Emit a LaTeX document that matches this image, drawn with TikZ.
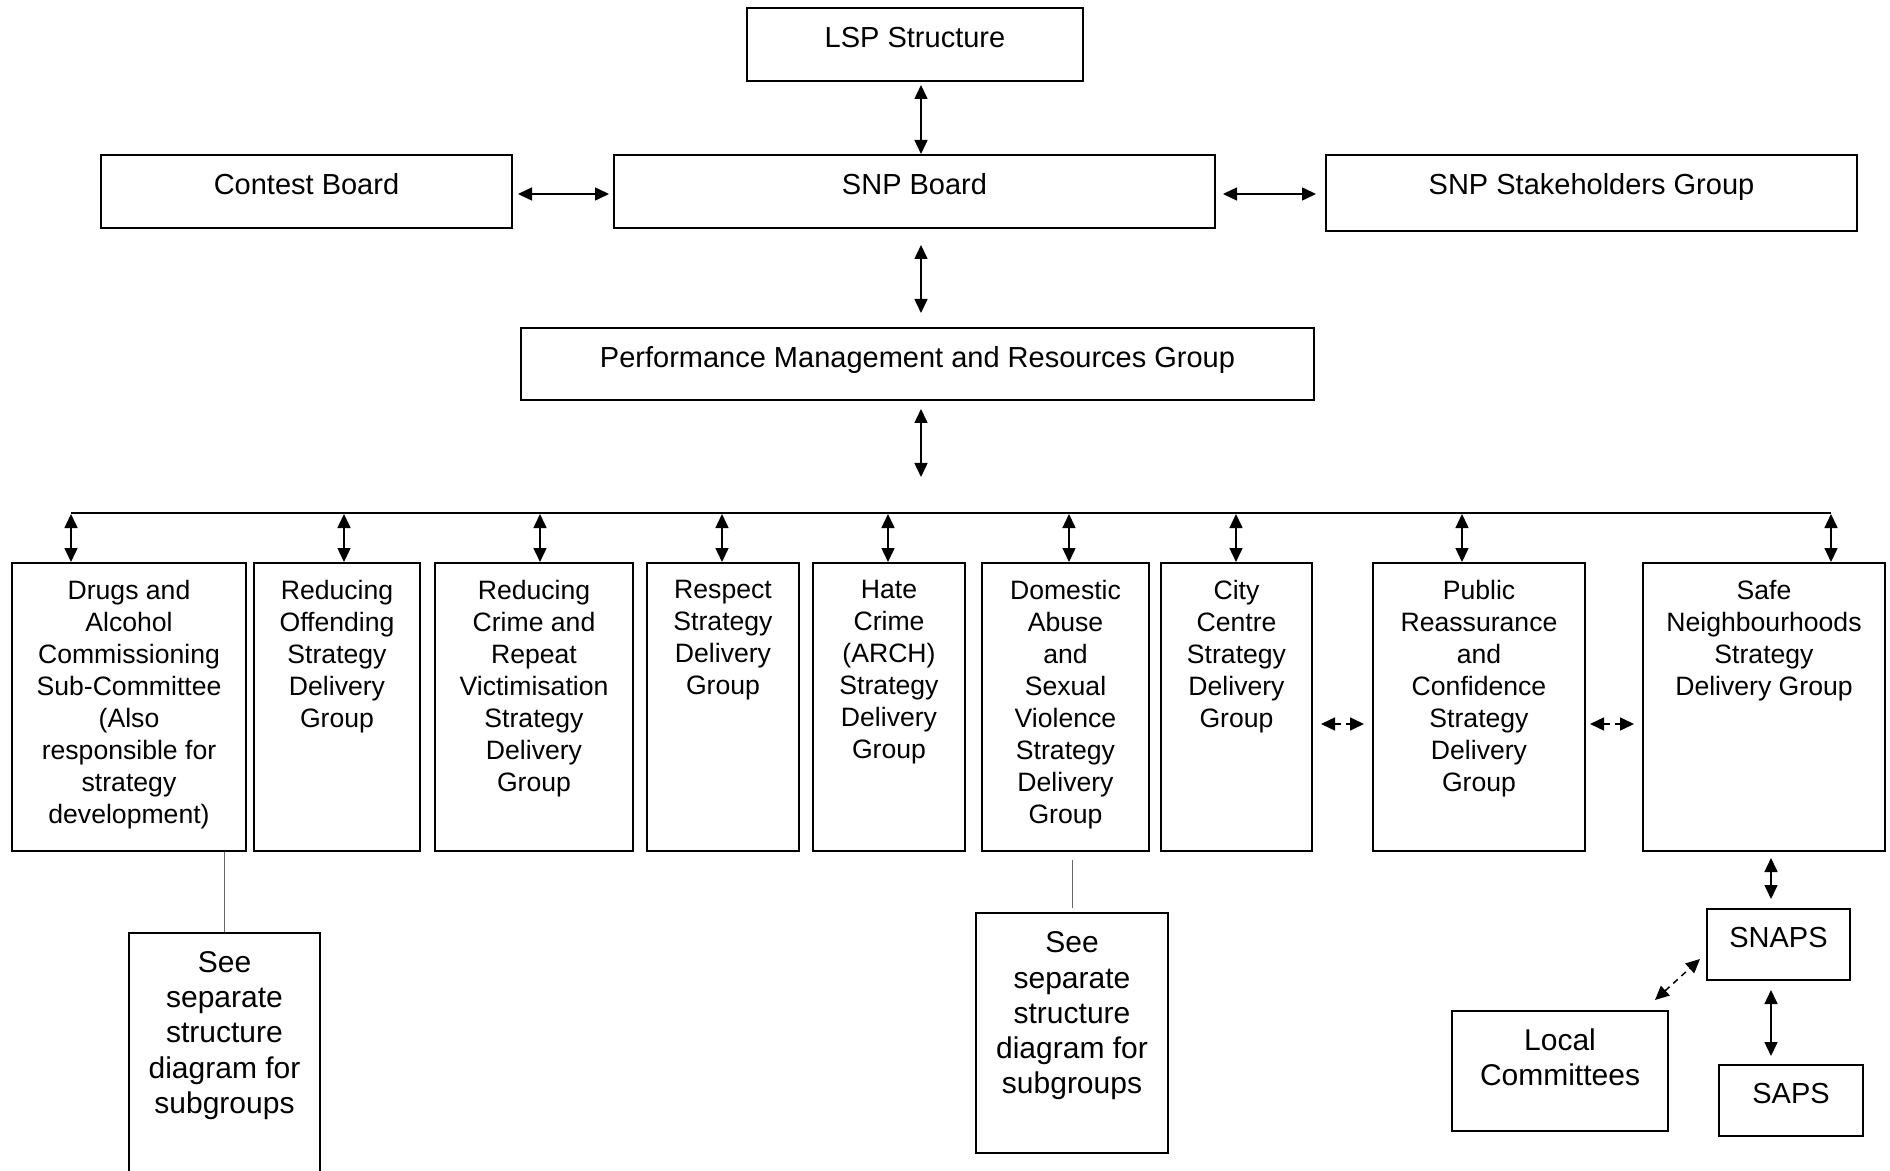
\documentclass[tikz,border=0pt]{standalone}
\usepackage{fontspec}
\setmainfont{Liberation Sans}
\usetikzlibrary{arrows.meta}
\begin{document}
\begin{tikzpicture}[x=0.5pt,y=-0.5pt,
  box/.style={draw, line width=1pt, inner sep=0pt, anchor=north west},
  txt/.style={font=\fontsize{14.5pt}{16pt}\selectfont, align=center, inner sep=0pt, anchor=north},
  txtg/.style={txt, font=\fontsize{13.3pt}{16pt}\selectfont},
  txtb/.style={txt, font=\fontsize{15pt}{17.6pt}\selectfont},
  arr/.style={line width=0.75pt, {Triangle[length=7pt,width=6.5pt]}-{Triangle[length=7pt,width=6.5pt]}},
  darr/.style={arr, dash pattern=on 3pt off 2.5pt},
  thinl/.style={line width=0.5pt, black!60}
]
\path[fill=white, use as bounding box] (0,0) rectangle (1890,1171);

% top level
\node[box, minimum width=168pt, minimum height=36.5pt] (lsp) at (746,7) {};
\node[txt] (lspt) at ([yshift=-9.75pt]lsp.north) {LSP Structure};
\node[box, minimum width=205.5pt, minimum height=36.5pt] (contest) at (100,154) {};
\node[txt] (contestt) at ([yshift=-9.75pt]contest.north) {Contest Board};
\node[box, minimum width=300.5pt, minimum height=36.5pt] (snp) at (613,154) {};
\node[txt] (snpt) at ([yshift=-9.75pt]snp.north) {SNP Board};
\node[box, minimum width=265.5pt, minimum height=38pt] (stake) at (1325,154) {};
\node[txt] (staket) at ([yshift=-9.75pt]stake.north) {SNP Stakeholders Group};
\node[box, minimum width=396.5pt, minimum height=36pt] (pmrg) at (520,327) {};
\node[txt] (pmrgt) at ([yshift=-9.3pt]pmrg.north) {Performance Management and Resources Group};

% delivery groups
\node[box, minimum width=117pt, minimum height=144pt] (b1) at (11,562) {};
\node[txtg] (b1t) at ([yshift=-9.1pt]b1.north) {Drugs and\\Alcohol\\Commissioning\\Sub-Committee\\(Also\\responsible for\\strategy\\development)};
\node[box, minimum width=83pt, minimum height=144pt] (b2) at (253,562) {};
\node[txtg] (b2t) at ([yshift=-9.1pt]b2.north) {Reducing\\Offending\\Strategy\\Delivery\\Group};
\node[box, minimum width=99pt, minimum height=144pt] (b3) at (434,562) {};
\node[txtg] (b3t) at ([yshift=-9.1pt]b3.north) {Reducing\\Crime and\\Repeat\\Victimisation\\Strategy\\Delivery\\Group};
\node[box, minimum width=76pt, minimum height=144pt] (b4) at (646,562) {};
\node[txtg] (b4t) at ([yshift=-9.1pt]b4.north) {Respect\\Strategy\\Delivery\\Group};
\node[box, minimum width=76pt, minimum height=144pt] (b5) at (812,562) {};
\node[txtg] (b5t) at ([yshift=-9.1pt]b5.north) {Hate\\Crime\\(ARCH)\\Strategy\\Delivery\\Group};
\node[box, minimum width=83.5pt, minimum height=144pt] (b6) at (981,562) {};
\node[txtg] (b6t) at ([yshift=-9.1pt]b6.north) {Domestic\\Abuse\\and\\Sexual\\Violence\\Strategy\\Delivery\\Group};
\node[box, minimum width=75.5pt, minimum height=144pt] (b7) at (1160,562) {};
\node[txtg] (b7t) at ([yshift=-9.1pt]b7.north) {City\\Centre\\Strategy\\Delivery\\Group};
\node[box, minimum width=106pt, minimum height=144pt] (b8) at (1372,562) {};
\node[txtg] (b8t) at ([yshift=-9.1pt]b8.north) {Public\\Reassurance\\and\\Confidence\\Strategy\\Delivery\\Group};
\node[box, minimum width=121pt, minimum height=144pt] (b9) at (1642,562) {};
\node[txtg] (b9t) at ([yshift=-9.1pt]b9.north) {Safe\\Neighbourhoods\\Strategy\\Delivery Group};

% lower boxes
\node[box, minimum width=95.5pt, minimum height=134pt] (see1) at (128,932) {};
\node[txtb] (see1t) at ([yshift=-9.6pt]see1.north) {See\\separate\\structure\\diagram for\\subgroups};
\node[box, minimum width=96pt, minimum height=120pt] (see2) at (975,912) {};
\node[txtb] (see2t) at ([yshift=-9.8pt]see2.north) {See\\separate\\structure\\diagram for\\subgroups};
\node[box, minimum width=71.5pt, minimum height=35.5pt] (snaps) at (1706,908) {};
\node[txt] (snapst) at ([yshift=-9.3pt]snaps.north) {SNAPS};
\node[box, minimum width=108pt, minimum height=60pt] (local) at (1451,1010) {};
\node[txtb] (localt) at ([yshift=-9.2pt]local.north) {Local\\Committees};
\node[box, minimum width=72pt, minimum height=35.5pt] (saps) at (1718,1064) {};
\node[txt] (sapst) at ([yshift=-9.3pt]saps.north) {SAPS};

% connectors, top
\coordinate (vx) at (921,0);
\coordinate (hy) at (0,194);
\coordinate (pmend) at (921,477);
\draw[arr, shorten <=1.5pt] (lsp.south -| vx) -- (snp.north -| vx);
\draw[arr, shorten <=8pt, shorten >=7pt] (snp.south -| vx) -- (pmrg.north -| vx);
\draw[arr, shorten <=4pt] (pmrg.south -| pmend) -- (pmend);
\draw[arr, shorten <=2.5pt, shorten >=2pt] (contest.east |- hy) -- (snp.west |- hy);
\draw[arr, shorten <=3.5pt, shorten >=4.5pt] (snp.east |- hy) -- (stake.west |- hy);

% bus and branches
\coordinate (bl) at (71,513);
\coordinate (br) at (1831,513);
\draw[line width=1pt] (bl) -- (br);
\foreach \x/\b in {71/b1,344/b2,540/b3,722/b4,888/b5,1069/b6,1236/b7,1462/b8,1831/b9}{
  \coordinate (t\b) at (\x,513);
  \draw[arr, shorten <=0.5pt] (t\b) -- (t\b |- \b.north);
}

% dashed links between groups
\coordinate (dy) at (0,724);
\draw[darr, shorten <=4pt, shorten >=4pt] (b7.east |- dy) -- (b8.west |- dy);
\draw[darr, shorten <=2pt, shorten >=4pt] (b8.east |- dy) -- (b9.west |- dy);

% see-separate links
\draw[thinl] (b1.south -| see1.north) -- (see1.north);
\draw[thinl] ([yshift=-4pt]b6.south -| see2.north) -- ([yshift=2pt]see2.north);

% SNAPS links
\coordinate (sx) at (1771,0);
\draw[arr, shorten <=3pt, shorten >=4.5pt] (b9.south -| sx) -- (snaps.north -| sx);
\draw[arr, shorten <=4.5pt, shorten >=4pt] (snaps.south -| sx) -- (saps.north -| sx);
\draw[darr] ([xshift=-7pt,yshift=5pt]local.north east) -- ([xshift=-3pt,yshift=-7.25pt]snaps.west);
\end{tikzpicture}
\end{document}
